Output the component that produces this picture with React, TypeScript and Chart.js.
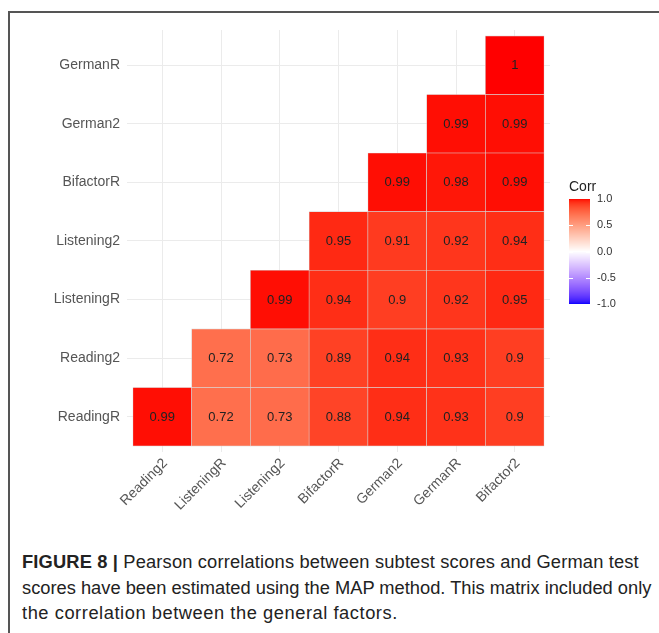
import React, { useEffect, useRef } from 'react';
import { Chart, registerables } from 'chart.js';

Chart.register(...registerables);

// ---- data ----
const colLabels = ['Reading2', 'ListeningR', 'Listening2', 'BifactorR', 'German2', 'GermanR', 'Bifactor2'];
// rows listed bottom -> top
const rowLabels = ['ReadingR', 'Reading2', 'ListeningR', 'Listening2', 'BifactorR', 'German2', 'GermanR'];
const rowReadingR = [0.99, 0.72, 0.73, 0.88, 0.94, 0.93, 0.9];
const rowReading2 = [null, 0.72, 0.73, 0.89, 0.94, 0.93, 0.9];
const rowListeningR = [null, null, 0.99, 0.94, 0.9, 0.92, 0.95];
const rowListening2 = [null, null, null, 0.95, 0.91, 0.92, 0.94];
const rowBifactorR = [null, null, null, null, 0.99, 0.98, 0.99];
const rowGerman2 = [null, null, null, null, null, 0.99, 0.99];
const rowGermanR = [null, null, null, null, null, null, 1];
const matrixRows: (number | null)[][] = [rowReadingR, rowReading2, rowListeningR, rowListening2, rowBifactorR, rowGerman2, rowGermanR];
const legendTitle = 'Corr';
const legendTicks = [1, 0.5, 0, -0.5, -1];
const legendTickLabels = ['1.0', '0.5', '0.0', '-0.5', '-1.0'];

// ---- colour (Lab interpolation like scale_fill_gradient2) ----
function toLin(c: number) { c /= 255; return c <= 0.04045 ? c / 12.92 : Math.pow((c + 0.055) / 1.055, 2.4); }
function fromLin(c: number) { const v = c <= 0.0031308 ? 12.92 * c : 1.055 * Math.pow(c, 1 / 2.4) - 0.055; return Math.round(Math.max(0, Math.min(1, v)) * 255); }
const Xn = 0.95047, Yn = 1, Zn = 1.08883;
function f(t: number) { return t > 216 / 24389 ? Math.cbrt(t) : (24389 / 27 * t + 16) / 116; }
function finv(t: number) { return t * t * t > 216 / 24389 ? t * t * t : (116 * t - 16) / (24389 / 27); }
function rgbToLab(rgb: number[]) {
  const [r, g, b] = rgb.map(toLin);
  const X = 0.4124564 * r + 0.3575761 * g + 0.1804375 * b;
  const Y = 0.2126729 * r + 0.7151522 * g + 0.0721750 * b;
  const Z = 0.0193339 * r + 0.1191920 * g + 0.9503041 * b;
  const fx = f(X / Xn), fy = f(Y / Yn), fz = f(Z / Zn);
  return [116 * fy - 16, 500 * (fx - fy), 200 * (fy - fz)];
}
function labToRgb(lab: number[]) {
  const [L, a, bb] = lab;
  const fy = (L + 16) / 116, fx = fy + a / 500, fz = fy - bb / 200;
  const X = finv(fx) * Xn, Y = finv(fy) * Yn, Z = finv(fz) * Zn;
  const r = 3.2404542 * X - 1.5371385 * Y - 0.4985314 * Z;
  const g = -0.9692660 * X + 1.8760108 * Y + 0.0415560 * Z;
  const b = 0.0556434 * X - 0.2040259 * Y + 1.0572252 * Z;
  return [fromLin(r), fromLin(g), fromLin(b)];
}
const LAB_WHITE = rgbToLab([255, 255, 255]);
const LAB_RED = rgbToLab([255, 0, 0]);
const LAB_BLUE = rgbToLab([0, 0, 255]);
function corrColor(v: number) {
  const t = Math.min(1, Math.abs(v));
  const end = v >= 0 ? LAB_RED : LAB_BLUE;
  const lab = LAB_WHITE.map((w, i) => w + (end[i] - w) * t);
  const [r, g, b] = labToRgb(lab);
  return `rgb(${r},${g},${b})`;
}

const FONT = '"Liberation Sans", Arial, sans-serif';

const cellLabelPlugin = {
  id: 'cellLabels',
  afterDatasetsDraw(chart: any) {
    const ctx = chart.ctx;
    ctx.save();
    ctx.font = `13px ${FONT}`;
    ctx.fillStyle = '#222';
    ctx.textAlign = 'center';
    ctx.textBaseline = 'middle';
    chart.data.datasets.forEach((ds: any, di: number) => {
      const meta = chart.getDatasetMeta(di);
      meta.data.forEach((el: any, i: number) => {
        const raw = ds.data[i];
        const p = el.getProps(['x', 'y', 'base'], true);
        ctx.fillText(String(raw.v), p.x, (p.y + p.base) / 2 + 0.5);
      });
    });
    ctx.restore();
  },
};

const legendPlugin = {
  id: 'corrLegend',
  afterDraw(chart: any) {
    const ctx = chart.ctx;
    const area = chart.chartArea;
    const left = area.right + 19;
    const w = 21;
    const top = area.top + 169;
    const h = 105;
    ctx.save();
    for (let i = 0; i < h; i++) {
      const v = 1 - (2 * (i + 0.5)) / h;
      ctx.fillStyle = corrColor(v);
      ctx.fillRect(left, top + i, w, 1);
    }
    const yOf = (v: number) => top + ((1 - v) / 2) * h;
    ctx.strokeStyle = '#fff';
    ctx.lineWidth = 1;
    legendTicks.forEach((v) => {
      if (v === 1 || v === -1) return;
      const y = Math.round(yOf(v)) + 0.5;
      ctx.beginPath();
      ctx.moveTo(left, y); ctx.lineTo(left + 4, y);
      ctx.moveTo(left + w - 4, y); ctx.lineTo(left + w, y);
      ctx.stroke();
    });
    ctx.fillStyle = '#333';
    ctx.font = `11px ${FONT}`;
    ctx.textAlign = 'left';
    ctx.textBaseline = 'middle';
    legendTicks.forEach((v, i) => {
      ctx.fillText(legendTickLabels[i], left + w + 7, yOf(v));
    });
    ctx.fillStyle = '#222';
    ctx.font = `14px ${FONT}`;
    ctx.textBaseline = 'alphabetic';
    ctx.fillText(legendTitle, left, top - 8);
    ctx.restore();
  },
};

export default function App() {
  const ref = useRef<HTMLCanvasElement>(null);
  useEffect(() => {
    const datasets = matrixRows.map((row, ri) => ({
      label: rowLabels[ri],
      data: row
        .map((v, ci) => (v == null ? null : { x: ci + 1, y: [ri + 0.5, ri + 1.5], v }))
        .filter((d) => d !== null),
      backgroundColor: (c: any) => (c.raw ? corrColor(c.raw.v) : '#fff'),
      borderColor: '#d6d2d2',
      borderWidth: 0.6,
      borderSkipped: false,
      barPercentage: 1,
      categoryPercentage: 1,
      grouped: false,
    }));
    const chart = new Chart(ref.current as HTMLCanvasElement, {
      type: 'bar',
      data: { datasets: datasets as any },
      options: {
        animation: false,
        responsive: false,
        events: [],
        layout: { padding: { left: 0, right: 109, top: 17, bottom: 0 } },
        plugins: { legend: { display: false }, tooltip: { enabled: false } },
        scales: {
          x: {
            type: 'linear',
            min: 0.4,
            max: 7.6,
            offset: false,
            grid: { offset: false, color: '#ebebeb', lineWidth: 1, drawTicks: false },
            border: { display: false },
            afterBuildTicks: (s: any) => { s.ticks = colLabels.map((_, i) => ({ value: i + 1 })); },
            afterFit: (s: any) => { s.height = 88; },
            ticks: {
              autoSkip: false,
              minRotation: 45,
              maxRotation: 45,
              padding: 3,
              labelOffset: 3,
              color: '#555',
              font: { family: FONT, size: 14 },
              callback: (v: any) => colLabels[Math.round(v) - 1] ?? '',
            },
          },
          y: {
            type: 'linear',
            min: 0.4,
            max: 7.6,
            grid: { color: '#ebebeb', lineWidth: 1, drawTicks: false },
            border: { display: false },
            afterBuildTicks: (s: any) => { s.ticks = rowLabels.map((_, i) => ({ value: i + 1 })); },
            afterFit: (s: any) => { s.width = 117; },
            ticks: {
              autoSkip: false,
              padding: 7,
              color: '#555',
              font: { family: FONT, size: 14 },
              callback: (v: any) => rowLabels[Math.round(v) - 1] ?? '',
            },
          },
        },
      },
      plugins: [cellLabelPlugin, legendPlugin],
    } as any);
    return () => chart.destroy();
  }, []);

  return (
    <>
      <div
        style={{
          position: 'absolute', left: 8, top: 11, width: 651, height: 622,
          borderTop: '2px solid #555', borderLeft: '2px solid #555', boxSizing: 'border-box',
        }}
      />
      <canvas
        ref={ref}
        width={649}
        height={527}
        style={{ position: 'absolute', left: 10, top: 13, width: 649, height: 527 }}
      />
      <div
        style={{
          position: 'absolute', left: 22, top: 549, fontFamily: FONT, fontSize: 18.3,
          lineHeight: '25.5px', whiteSpace: 'nowrap', color: '#222',
        }}
      >
        <div style={{ letterSpacing: 0.16 }}><b>FIGURE 8 |</b> Pearson correlations between subtest scores and German test</div>
        <div>scores have been estimated using the MAP method. This matrix included only</div>
        <div style={{ letterSpacing: 0.55 }}>the correlation between the general factors.</div>
      </div>
    </>
  );
}
